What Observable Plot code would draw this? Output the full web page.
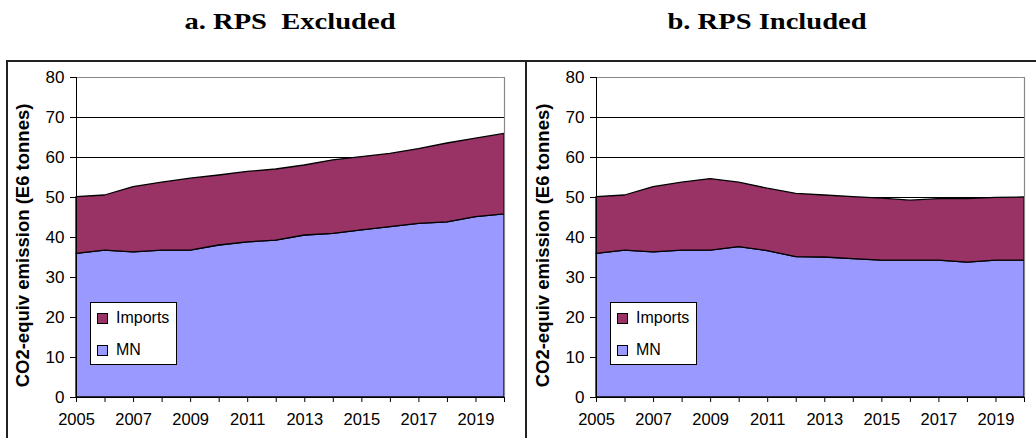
<!DOCTYPE html>
<html>
<head>
<meta charset="utf-8">
<script src="https://cdn.jsdelivr.net/npm/d3@7"></script>
<script src="https://cdn.jsdelivr.net/npm/@observablehq/plot@0.6"></script>
<style>
  html, body { margin: 0; padding: 0; background: #fff; width: 1036px; height: 438px; overflow: hidden; }
  .title { position: absolute; top: 8px; font-family: "Liberation Serif", serif; font-weight: bold; font-size: 24px; color: #000; text-align: center; white-space: pre; transform: scaleX(1.19); transform-origin: center; }
  .box { position: absolute; top: 60px; height: 420px; border: 2px solid #222; box-sizing: border-box; }
  .panel { position: absolute; top: 62px; }
  .legend { position: absolute; background: #fff; border: 1px solid #000; width: 87px; height: 63px; box-sizing: border-box; font-family: "Liberation Sans", Arial, sans-serif; font-size: 16px; }
  .legend .item { position: absolute; left: 6px; display: flex; align-items: center; }
  .legend .sw { width: 9px; height: 9px; border: 1px solid #000; margin-right: 8px; }
</style>
</head>
<body>
<script>
const years = [2005,2006,2007,2008,2009,2010,2011,2012,2013,2014,2015,2016,2017,2018,2019,2020];
const labelYears = [2005,2007,2009,2011,2013,2015,2017,2019];
const yTicks = [0,10,20,30,40,50,60,70,80];
const seriesNames = ["Imports", "MN"];
const seriesColors = ["#993366", "#9999FF"];
const titles = ["a. RPS  Excluded", "b. RPS Included"];
const yLabel = "CO2-equiv emission (E6 tonnes)";

// Panel a: RPS excluded
const mnA      = [35.9,36.7,36.3,36.7,36.7,38.0,38.8,39.2,40.5,40.9,41.8,42.6,43.4,43.8,45.1,45.8];
const importsA = [14.2,13.8,16.3,17.0,18.0,17.5,17.6,17.8,17.5,18.4,18.3,18.3,18.7,19.7,19.6,20.1];
// Panel b: RPS included
const mnB      = [35.9,36.7,36.3,36.7,36.7,37.6,36.6,35.1,35.0,34.6,34.2,34.2,34.2,33.7,34.2,34.2];
const importsB = [14.2,13.8,16.3,17.0,17.9,16.1,15.6,15.8,15.5,15.5,15.5,15.0,15.4,15.9,15.7,15.8];

function rows(mn, imp) {
  const out = [];
  years.forEach((y, i) => {
    out.push({year: y, series: "MN", value: mn[i]});
    out.push({year: y, series: "Imports", value: imp[i]});
  });
  return out;
}

function makePanel(data, width) {
  return Plot.plot({
    width: width,
    height: 376,
    marginLeft: 68,
    marginRight: width - 496,
    marginTop: 15,
    marginBottom: 41,
    style: {fontFamily: "'Liberation Sans', Arial, sans-serif", fontSize: "16px", color: "#000", background: "transparent", overflow: "visible"},
    x: {type: "linear", domain: [2005, 2020]},
    y: {domain: [0, 80]},
    color: {domain: seriesNames, range: seriesColors},
    marks: [
      Plot.ruleY(yTicks.filter(d => d > 0 && d < 80), {stroke: "#000", strokeWidth: 1}),
      Plot.areaY(data, {x: "year", y: "value", z: "series", fill: "series", order: ["MN", "Imports"], stroke: "#000", strokeWidth: 1.3, curve: "linear"}),
      Plot.ruleY([80], {stroke: "#888", strokeWidth: 1.2}),
      Plot.ruleX([2020], {stroke: "#888", strokeWidth: 1.2}),
      Plot.ruleY([0], {stroke: "#000", strokeWidth: 1}),
      Plot.ruleX([2005], {stroke: "#000", strokeWidth: 1}),
      Plot.axisY({ticks: yTicks, tickSize: 6, tickPadding: 6, label: null, fontSize: 17}),
      Plot.axisX({ticks: years, tickSize: 5, tickPadding: 11, tickFormat: d => labelYears.includes(d) ? String(d) : "", label: null, fontSize: 16.5}),
      Plot.text([yLabel], {text: d => d, frameAnchor: "left", textAnchor: "middle", rotate: -90, dx: -53, dy: 8, fontWeight: "bold", fontSize: 18.5, fill: "#000"})
    ]
  });
}

function addLegend(left, top) {
  const lg = document.createElement("div");
  lg.className = "legend";
  lg.style.left = left + "px";
  lg.style.top = top + "px";
  seriesNames.forEach((name, i) => {
    const it = document.createElement("div");
    it.className = "item";
    it.style.top = (i === 0 ? 6 : 38) + "px";
    const sw = document.createElement("div");
    sw.className = "sw";
    sw.style.background = seriesColors[i];
    const tx = document.createElement("span");
    tx.textContent = name;
    it.appendChild(sw);
    it.appendChild(tx);
    lg.appendChild(it);
  });
  document.body.appendChild(lg);
}

const panels = [
  {data: rows(mnA, importsA), boxLeft: 6, boxWidth: 521, left: 8, width: 518, titleCenter: 290, legendLeft: 90},
  {data: rows(mnB, importsB), boxLeft: 525, boxWidth: 515, left: 528, width: 506, titleCenter: 767, legendLeft: 610}
];

panels.forEach((p, i) => {
  const box = document.createElement("div");
  box.className = "box";
  box.style.left = p.boxLeft + "px";
  box.style.width = p.boxWidth + "px";
  document.body.appendChild(box);

  const t = document.createElement("div");
  t.className = "title";
  t.textContent = titles[i];
  t.style.left = (p.titleCenter - 150) + "px";
  t.style.width = "300px";
  document.body.appendChild(t);

  const wrap = document.createElement("div");
  wrap.className = "panel";
  wrap.style.left = p.left + "px";
  wrap.appendChild(makePanel(p.data, p.width));
  document.body.appendChild(wrap);

  addLegend(p.legendLeft, 302);
});
</script>
</body>
</html>
